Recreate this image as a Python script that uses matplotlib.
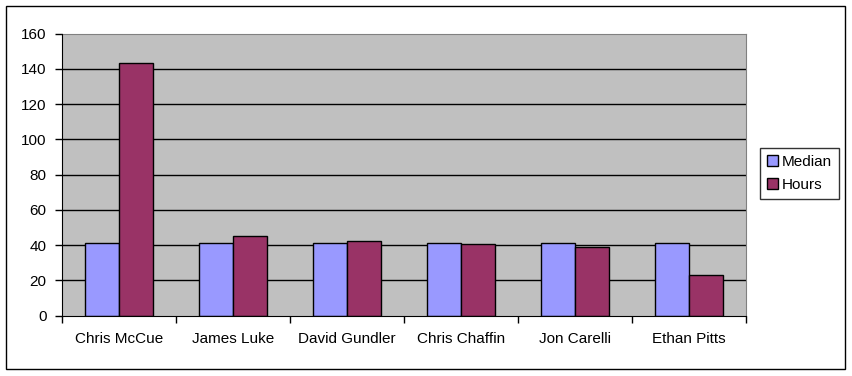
import matplotlib
matplotlib.use("Agg")
from matplotlib import pyplot as plt
from matplotlib.patches import Rectangle
import numpy as np

# chart data
names = ["Chris McCue", "James Luke", "David Gundler", "Chris Chaffin", "Jon Carelli", "Ethan Pitts"]
median = [41.2, 41.2, 41.2, 41.2, 41.2, 41.2]
hours = [143.3, 45.3, 42.3, 40.6, 38.9, 23.0]
y_ticks = [0, 20, 40, 60, 80, 100, 120, 140, 160]

plt.rcParams['font.family'] = ['Liberation Sans', 'DejaVu Sans']
fs = 11

W, H = 852, 376
fig = plt.figure(figsize=(W / 100, H / 100), dpi=100)

# plot area in pixel coordinates
left, right, top, bottom = 62, 746, 33.7, 315.7
ax = fig.add_axes([left / W, 1 - bottom / H, (right - left) / W, (bottom - top) / H])
ax.set_facecolor('#c0c0c0')

x = np.arange(len(names))
bw = 0.294
ax.bar(x - bw / 2, median, bw, color='#9999ff', edgecolor='black', linewidth=1, label='Median', zorder=3)
ax.bar(x + bw / 2, hours, bw, color='#993366', edgecolor='black', linewidth=1, label='Hours', zorder=3)

ax.set_xlim(-0.5, len(names) - 0.5)
ax.set_ylim(0, 160)
ax.set_yticks(y_ticks)
ax.set_yticklabels([str(v) for v in y_ticks], fontsize=fs)
for v in y_ticks[1:-1]:
    ax.axhline(v, color='black', linewidth=1, zorder=1)

# category labels between boundary ticks
ax.set_xticks(np.arange(len(names) + 1) - 0.5)
ax.set_xticklabels([])
ax.set_xticks(x, minor=True)
ax.set_xticklabels(names, minor=True, fontsize=fs)
ax.tick_params(axis='x', which='minor', length=0, pad=12)
ax.tick_params(axis='x', which='major', length=5, width=1, direction='out')
ax.tick_params(axis='y', length=5, width=1, direction='out', pad=6)

for s in ['top', 'right']:
    ax.spines[s].set_color('#808080')
for s in ['left', 'bottom']:
    ax.spines[s].set_color('black')
    ax.spines[s].set_zorder(4)

leg = fig.legend(loc='upper left', bbox_to_anchor=(760 / W, 1 - 148 / H),
                 fontsize=fs, frameon=True, fancybox=False, handlelength=0.7,
                 handleheight=0.7, handletextpad=0.3, borderpad=0.45,
                 labelspacing=0.6, borderaxespad=0)
leg.get_frame().set_edgecolor('black')
leg.get_frame().set_linewidth(1)

# outer chart border
fig.patches.append(Rectangle((6 / W, 1 - 369 / H), 839 / W, 363 / H,
                             transform=fig.transFigure, fill=False,
                             edgecolor='black', linewidth=1))

fig.savefig('out.png', dpi=100)
